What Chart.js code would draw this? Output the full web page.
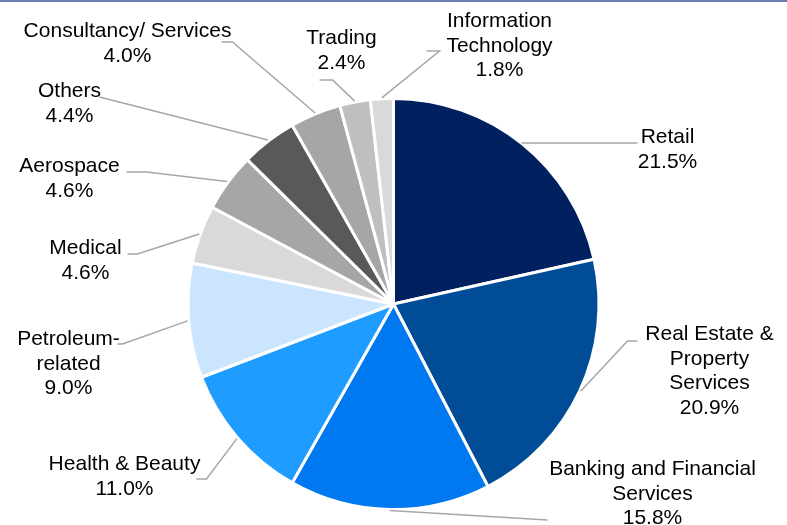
<!DOCTYPE html>
<html>
<head>
<meta charset="utf-8">
<script src="https://cdn.jsdelivr.net/npm/chart.js@4"></script>
<style>
  body { margin: 0; background: #fff; }
  #wrap { position: relative; width: 787px; height: 525px; }
  #topline { position: absolute; left: 0; top: 0; width: 787px; height: 2px; background: #6a7fb0; }
  canvas { position: absolute; left: 0; top: 0; }
</style>
</head>
<body>
<div id="wrap">
  <canvas id="sector-chart" width="787" height="525"></canvas>
  <div id="topline"></div>
</div>
<script>
const sectors = [
  'Retail', 'Real Estate & Property Services', 'Banking and Financial Services',
  'Health & Beauty', 'Petroleum-related', 'Medical', 'Aerospace', 'Others',
  'Consultancy/ Services', 'Trading', 'Information Technology'
];
const shares = [21.5, 20.9, 15.8, 11.0, 9.0, 4.6, 4.6, 4.4, 4.0, 2.4, 1.8];
const sliceColors = [
  '#002060', '#004c97', '#0078ef', '#1e9cff', '#cce5ff', '#d9d9d9',
  '#a6a6a6', '#595959', '#a6a6a6', '#bfbfbf', '#d9d9d9'
];
// how each label is broken into lines
const labelLines = [
  ['Retail'], ['Real Estate &', 'Property', 'Services'], ['Banking and Financial', 'Services'],
  ['Health & Beauty'], ['Petroleum-', 'related'], ['Medical'], ['Aerospace'], ['Others'],
  ['Consultancy/ Services'], ['Trading'], ['Information', 'Technology']
];

// label layout, offsets from pie centre: text (x centre, first baseline), elbow, line end
const labelLayout = [
  { text: [274, -161], elbow: [128, -161], end: [244, -161] },
  { text: [316, 36], elbow: [234, 37], end: [244, 37] },
  { text: [259, 171], elbow: [154, 216], end: [154, 216] },
  { text: [-269, 166], elbow: [-187, 175], end: [-197, 175] },
  { text: [-325, 41], elbow: [-271, 40], end: [-276, 40] },
  { text: [-308, -50], elbow: [-256, -50], end: [-266, -50] },
  { text: [-324, -132], elbow: [-247, -132], end: [-267, -132] },
  { text: [-324, -207], elbow: [-294, -207], end: [-294, -207] },
  { text: [-266, -267], elbow: [-161, -262], end: [-172, -262] },
  { text: [-52, -260], elbow: [-61, -224], end: [-74, -224] },
  { text: [106, -277], elbow: [46, -253], end: [33, -253] }
];

const leaderLabels = {
  id: 'leaderLabels',
  afterDatasetsDraw(chart) {
    const ctx = chart.ctx;
    const arcs = chart.getDatasetMeta(0).data;
    ctx.save();
    arcs.forEach((arc, i) => {
      const p = arc.getProps(['x', 'y', 'startAngle', 'endAngle', 'outerRadius'], true);
      const mid = (p.startAngle + p.endAngle) / 2;
      const ax = p.x + Math.cos(mid) * (p.outerRadius + 1);
      const ay = p.y + Math.sin(mid) * (p.outerRadius + 1);
      const lay = labelLayout[i];

      ctx.strokeStyle = '#a6a6a6';
      ctx.lineWidth = 1.5;
      ctx.beginPath();
      ctx.moveTo(ax, ay);
      ctx.lineTo(p.x + lay.elbow[0], p.y + lay.elbow[1]);
      ctx.lineTo(p.x + lay.end[0], p.y + lay.end[1]);
      ctx.stroke();

      const lines = labelLines[i].concat([shares[i].toFixed(1) + '%']);
      ctx.fillStyle = '#000';
      ctx.font = '21px "Liberation Sans", Arial, sans-serif';
      ctx.textAlign = 'center';
      ctx.textBaseline = 'alphabetic';
      lines.forEach((t, k) => {
        ctx.fillText(t, p.x + lay.text[0], p.y + lay.text[1] + k * 24.5);
      });
    });
    ctx.restore();
  }
};

new Chart(document.getElementById('sector-chart'), {
  type: 'pie',
  data: {
    labels: sectors,
    datasets: [{
      data: shares,
      backgroundColor: sliceColors,
      borderColor: '#ffffff',
      borderWidth: 3
    }]
  },
  options: {
    responsive: false,
    animation: false,
    layout: { padding: { top: 97, bottom: 14 } },
    plugins: {
      legend: { display: false },
      tooltip: { enabled: false }
    }
  },
  plugins: [leaderLabels]
});
</script>
</body>
</html>
